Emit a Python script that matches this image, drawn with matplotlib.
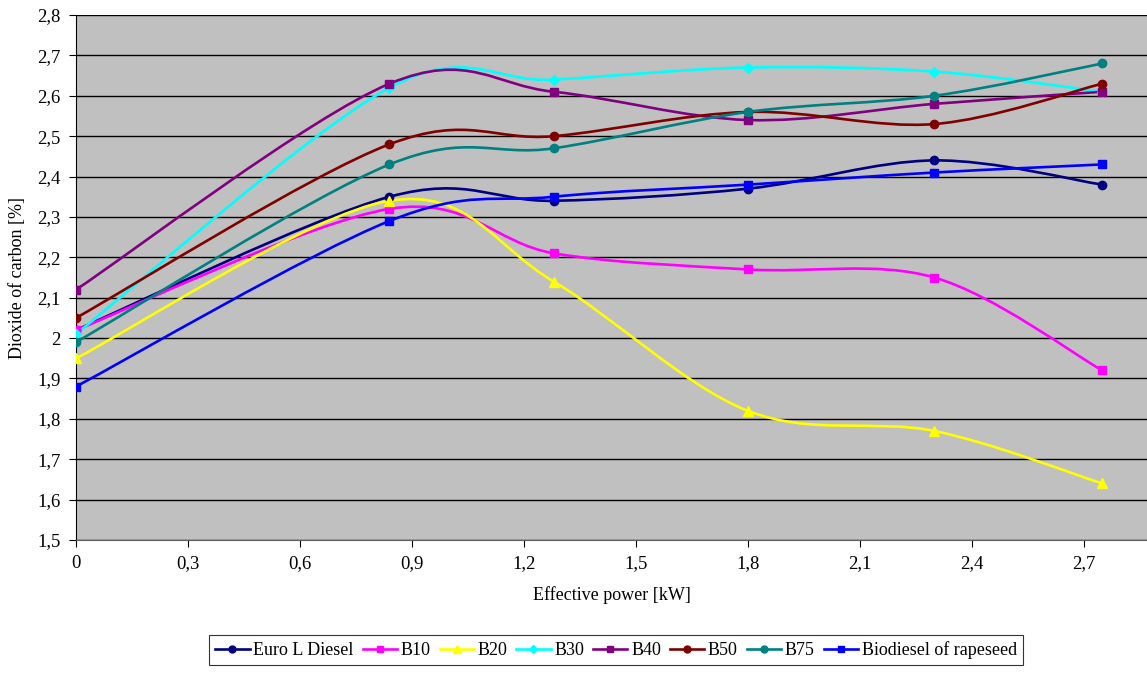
import matplotlib
matplotlib.use('Agg')
from matplotlib import pyplot as plt
from matplotlib.path import Path
from matplotlib.patches import PathPatch
from matplotlib.lines import Line2D
from matplotlib.ticker import FuncFormatter, MultipleLocator

# data
power = [0, 0.84, 1.28, 1.8, 2.3, 2.75]

euro_diesel = [2.02, 2.35, 2.34, 2.37, 2.44, 2.38]
b10 = [2.02, 2.32, 2.21, 2.17, 2.15, 1.92]
b20 = [1.95, 2.34, 2.14, 1.82, 1.77, 1.64]
b30 = [2.01, 2.62, 2.64, 2.67, 2.66, 2.61]
b40 = [2.12, 2.63, 2.61, 2.54, 2.58, 2.61]
b50 = [2.05, 2.48, 2.50, 2.56, 2.53, 2.63]
b75 = [1.99, 2.43, 2.47, 2.56, 2.60, 2.68]
rapeseed = [1.88, 2.29, 2.35, 2.38, 2.41, 2.43]

names = ['Euro L Diesel', 'B10', 'B20', 'B30', 'B40', 'B50', 'B75',
         'Biodiesel of rapeseed']
series = [euro_diesel, b10, b20, b30, b40, b50, b75, rapeseed]
colors = ['#000080', '#FF00FF', '#FFFF00', '#00FFFF', '#800080',
          '#800000', '#008080', '#0000FF']
markers = ['o', 's', '^', 'D', 's', 'o', 'o', 's']
msizes = [6, 6, 7, 5, 6, 6, 6, 6]

plt.rcParams['font.family'] = ['Liberation Serif', 'DejaVu Serif']


def smooth_path(xs, ys):
    # Excel-like smoothed line: Catmull-Rom segments as cubic Bezier curves
    pts = list(zip(xs, ys))
    n = len(pts)
    verts = [pts[0]]
    codes = [Path.MOVETO]
    for i in range(n - 1):
        p0 = pts[i - 1] if i > 0 else pts[i]
        p1 = pts[i]
        p2 = pts[i + 1]
        p3 = pts[i + 2] if i + 2 < n else pts[i + 1]
        c1 = (p1[0] + (p2[0] - p0[0]) / 6, p1[1] + (p2[1] - p0[1]) / 6)
        c2 = (p2[0] - (p3[0] - p1[0]) / 6, p2[1] - (p3[1] - p1[1]) / 6)
        verts += [c1, c2, p2]
        codes += [Path.CURVE4] * 3
    return Path(verts, codes)


fig = plt.figure(figsize=(11.47, 6.74), dpi=100)
ax = fig.add_axes([0.0663, 0.1988, 0.9337, 0.7789])
ax.set_facecolor('#C0C0C0')

handles = []
for name, ys, c, m, ms in zip(names, series, colors, markers, msizes):
    ax.add_patch(PathPatch(smooth_path(power, ys), fill=False, edgecolor=c,
                           lw=1.9, zorder=3, capstyle='round'))
    ax.plot(power, ys, linestyle='none', marker=m, color=c, markersize=ms,
            zorder=4)
    handles.append(Line2D([], [], color=c, marker=m, markersize=ms - 1, lw=1.9))

ax.set_xlim(0, 2.87)
ax.set_ylim(1.5, 2.8)
ax.xaxis.set_major_locator(MultipleLocator(0.3))
ax.yaxis.set_major_locator(MultipleLocator(0.1))
fmt = FuncFormatter(lambda v, p: ('%g' % round(v, 2)).replace('.', ','))
ax.xaxis.set_major_formatter(fmt)
ax.yaxis.set_major_formatter(fmt)
ax.grid(axis='y', color='black', lw=1.0, zorder=1)
ax.set_axisbelow(True)

for s in ['right', 'top']:
    ax.spines[s].set_visible(False)
ax.spines['left'].set_color('black')
ax.spines['bottom'].set_color('#606060')
ax.tick_params(axis='both', direction='out', length=5, labelsize=13.5,
               colors='black', pad=6)

ax.set_xlabel('Effective power [kW]', fontsize=13, labelpad=10)
ax.set_ylabel('Dioxide of carbon [%]', fontsize=13, labelpad=8)

leg = fig.legend(handles, names, loc='center', bbox_to_anchor=(0.537, 0.0356),
                 ncol=8, fontsize=13, frameon=True, fancybox=False,
                 handlelength=1.9, handletextpad=0.2, columnspacing=0.5,
                 borderpad=0.35)
leg.get_frame().set_edgecolor('black')
leg.get_frame().set_linewidth(0.8)

fig.savefig('out.png', dpi=100)
